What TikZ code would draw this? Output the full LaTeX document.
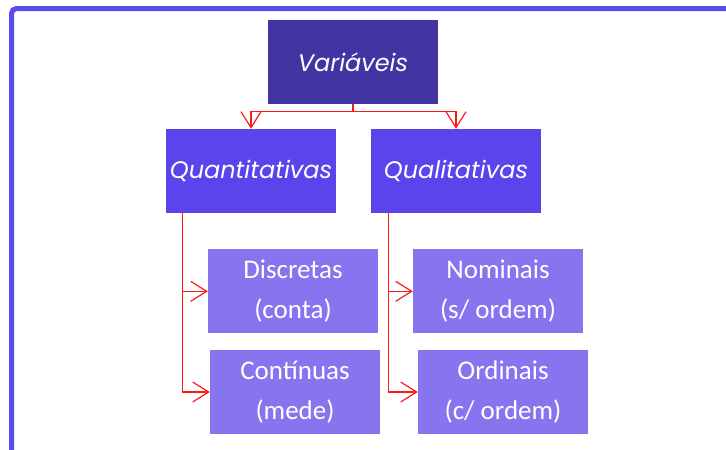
\documentclass[tikz,border=0pt]{standalone}
\usepackage{fontspec}
\setmainfont{Carlito}
\newfontfamily\headfont{Poppins}
\usetikzlibrary{arrows.meta,calc}
\definecolor{framecol}{HTML}{5B4BE9}
\definecolor{topcol}{HTML}{4334A4}
\definecolor{midcol}{HTML}{5A44EC}
\definecolor{leafcol}{HTML}{8675EE}
\definecolor{linecol}{HTML}{FF1A1A}
\tikzset{
  topbox/.style={rectangle, fill=topcol, text=white, minimum width=170pt, minimum height=84pt, inner sep=0pt, font=\headfont\itshape\fontsize{24}{28}\selectfont},
  midbox/.style={rectangle, fill=midcol, text=white, minimum width=170pt, minimum height=84pt, inner sep=0pt, font=\headfont\itshape\fontsize{24}{28}\selectfont},
  leafbox/.style={rectangle, fill=leafcol, text=white, minimum width=170pt, minimum height=84pt, inner sep=0pt, align=center, font=\fontsize{27}{40}\selectfont},
  conn/.style={draw=linecol, line width=1.2pt, -{Straight Barb[length=16pt,width=20pt,line width=1.2pt]}},
  frameline/.style={draw=framecol, line width=5pt, rounded corners=5pt}
}
\begin{document}
\begin{tikzpicture}[x=1pt,y=-1pt]
\clip (0,0) rectangle (726,450);
\fill[white] (0,0) rectangle (726,450);
\draw[frameline] (11.5,470) -- (11.5,8.5) -- (760,8.5);
\node[topbox] (V) at (353,62) {Variáveis};
\node[midbox] (Qt) at (251,171) {Quantitativas};
\node[midbox] (Ql) at (456,171) {Qualitativas};
\node[leafbox] (D) at (293,291.3) {Discretas\\(conta)};
\node[leafbox] (C) at (295,392) {Contínuas\\(mede)};
\node[leafbox] (N) at (498,291.3) {Nominais\\(s/ ordem)};
\node[leafbox] (O) at (503,392) {Ordinais\\(c/ ordem)};
\coordinate (vj) at ($(V.south)+(0,7)$);
\coordinate (lt) at ($(Qt.south west)+(16.7,0)$);
\coordinate (rt) at ($(Ql.south west)+(17.6,0)$);
\draw[conn] (V.south) -- (vj) -| (Qt.north);
\draw[conn] (vj) -| (Ql.north);
\draw[conn] (lt) |- (D.west);
\draw[conn] (lt) |- (C.west);
\draw[conn] (rt) |- (N.west);
\draw[conn] (rt) |- (O.west);
\end{tikzpicture}
\end{document}
